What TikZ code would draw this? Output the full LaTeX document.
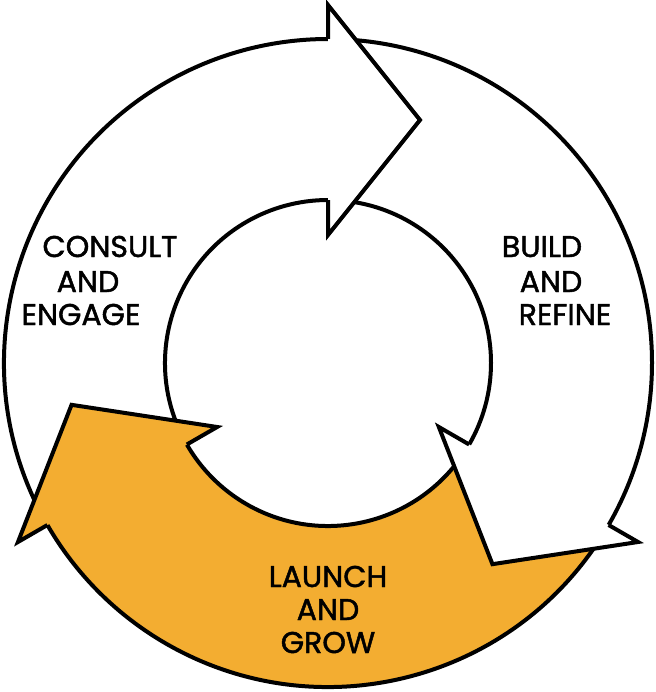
\documentclass[tikz,border=0pt]{standalone}
\usepackage{fontspec}
\setmainfont{Poppins}
\newfontfamily\labelfont{Poppins}[FakeBold=1.6]
\usetikzlibrary{calc}
\definecolor{launchorange}{RGB}{243,173,49}

\tikzset{
  ringline/.style={line width=3pt},
  headline/.style={line width=3pt, line join=miter, miter limit=20},
  steplabel/.style={anchor=base, inner sep=0.75pt, font=\labelfont\fontsize{22.5}{22.5}\selectfont, text=black},
}

\begin{document}
\begin{tikzpicture}[x=0.75pt,y=0.75pt,yscale=-1,xscale=1]
    \useasboundingbox (0,0) rectangle (656,692);
    % centre of the ring
    \coordinate (c) at (328,363);

    %Shape: ring bodies (screen angles, clockwise)
    \foreach \a/\b/\col in {150/270/white, 270/390/white, 30/150/launchorange}{
      \fill[\col] ($(c)+(\a+1:324)$) arc[start angle=\a+1, end angle=\b+2, radius=324]
        -- ($(c)+(\b+2:163)$) arc[start angle=\b+2, end angle=\a+1, radius=163] -- cycle;
      \draw[ringline] ($(c)+(\a:324)$) arc[start angle=\a, end angle=\b, radius=324];
      \draw[ringline] ($(c)+(\a:163)$) arc[start angle=\a, end angle=\b, radius=163];
    }

    %Shape: arrow heads
    \foreach \h/\col in {270/white, 30/white, 150/launchorange}{
      \coordinate (tip) at ($(c)+(\h:243)+(\h+90:92)$);
      \fill[\col] ($(c)+(\h:358)$) -- (tip) -- ($(c)+(\h:128)$) -- cycle;
      \draw[headline] ($(c)+(\h:324)$) -- ($(c)+(\h:358)$) -- (tip)
        -- ($(c)+(\h:128)$) -- ($(c)+(\h:163)$);
    }

    % Text Node
    \node[steplabel] (consult) at (110,257) {CONSULT};
    \node[steplabel] (consultand) at (88,292) {AND};
    \node[steplabel] (engage) at (81,325) {ENGAGE};
    % Text Node
    \node[steplabel] (build) at (542,257) {BUILD};
    \node[steplabel] (buildand) at (551,292) {AND};
    \node[steplabel] (refine) at (565,325) {REFINE};
    % Text Node
    \node[steplabel] (launch) at (328,587) {LAUNCH};
    \node[steplabel] (launchand) at (328,620) {AND};
    \node[steplabel] (grow) at (328,653) {GROW};
\end{tikzpicture}
\end{document}
